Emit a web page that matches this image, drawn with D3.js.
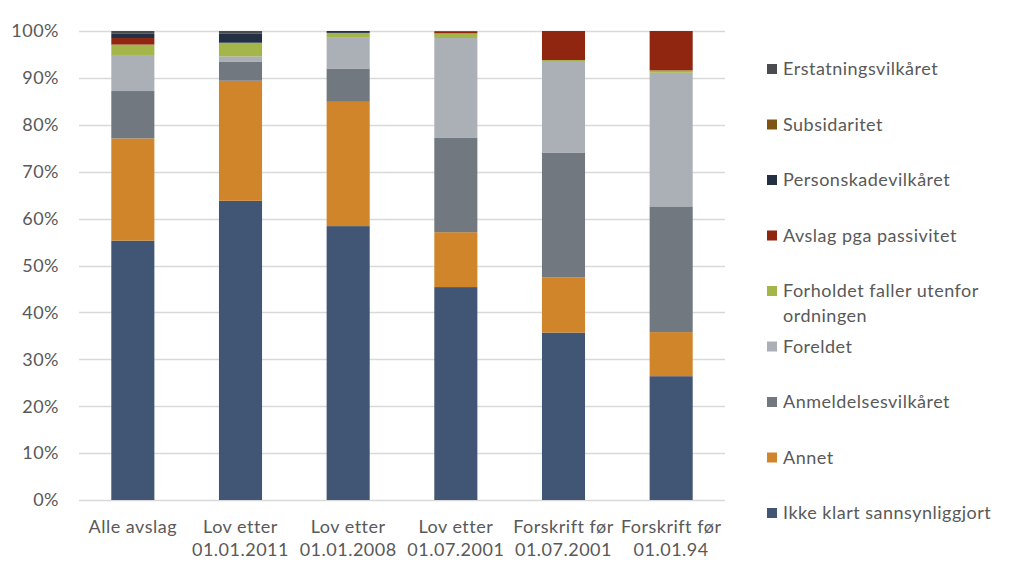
<!DOCTYPE html>
<html><head><meta charset="utf-8">
<script src="https://cdn.jsdelivr.net/npm/d3@7"></script>
<style>body{margin:0;background:#fff}svg{display:block}text{font-family:Lato,"Open Sans",sans-serif;fill:#595959;letter-spacing:0.5px}</style>
</head><body><svg id="c" width="1023" height="584"></svg>
<script>
const categories = [["Alle avslag"],["Lov etter","01.01.2011"],["Lov etter","01.01.2008"],["Lov etter","01.07.2001"],["Forskrift før","01.07.2001"],["Forskrift før","01.01.94"]];
const seriesNames = ["Ikke klart sannsynliggjort","Annet","Anmeldelsesvilkåret","Foreldet","Forholdet faller utenfor ordningen","Avslag pga passivitet","Personskadevilkåret","Subsidaritet","Erstatningsvilkåret"];
const legendLines = [["Ikke klart sannsynliggjort"],["Annet"],["Anmeldelsesvilkåret"],["Foreldet"],["Forholdet faller utenfor","ordningen"],["Avslag pga passivitet"],["Personskadevilkåret"],["Subsidaritet"],["Erstatningsvilkåret"]];
const colors = ["#415574","#D0852A","#717880","#ABAFB6","#A4B64A","#902510","#232F42","#7E5415","#4A4C4F"];
const ikke = [55.3, 63.8, 58.4, 45.4, 35.7, 26.4];
const annet = [21.8, 25.6, 26.5, 11.7, 11.8, 9.4];
const anmeldelse = [10.1, 4.1, 7.1, 20.2, 26.5, 26.8];
const foreldet = [7.5, 1.1, 6.7, 21.2, 19.6, 28.5];
const forholdet = [2.4, 2.9, 0.9, 1.0, 0.2, 0.5];
const avslag = [1.4, 0, 0, 0.3, 6.2, 8.4];
const personskade = [0.9, 1.9, 0.4, 0, 0, 0];
const subsidaritet = [0, 0, 0, 0.2, 0, 0];
const erstatning = [0.6, 0.6, 0, 0, 0, 0];
const yTicks = [0,10,20,30,40,50,60,70,80,90,100];

const seriesVals = [ikke, annet, anmeldelse, foreldet, forholdet, avslag, personskade, subsidaritet, erstatning];
const rows = categories.map((c,i)=>{const r={key:i}; seriesNames.forEach((s,j)=>r[s]=seriesVals[j][i]); return r;});
const stack = d3.stack().keys(seriesNames)(rows);

const svg = d3.select("#c");
const x = d3.scaleBand().domain(d3.range(categories.length)).range([79,725]).paddingInner(0.6).paddingOuter(0.3);
const y = d3.scaleLinear().domain([0,100]).range([500,31]);

svg.append("g").selectAll("line").data(yTicks).join("line")
  .attr("x1",79).attr("x2",725).attr("y1",d=>Math.round(y(d))+0.5).attr("y2",d=>Math.round(y(d))+0.5)
  .attr("stroke","#d9d9d9").attr("stroke-width",1.3);

svg.append("g").selectAll("text").data(yTicks).join("text")
  .attr("x",59).attr("y",d=>y(d)).attr("dy","0.35em").attr("text-anchor","end")
  .style("font-size","18px").text(d=>d+"%");

svg.append("g").selectAll("g").data(stack).join("g").attr("fill",(d,i)=>colors[i])
  .selectAll("rect").data(d=>d).join("rect")
  .attr("x",(d,i)=>x(i)).attr("width",x.bandwidth())
  .attr("y",d=>y(d[1])).attr("height",d=>Math.max(0,y(d[0])-y(d[1])));

const xl = svg.append("g").selectAll("text").data(categories).join("text")
  .attr("x",(d,i)=>x(i)+x.bandwidth()/2).attr("y",533).attr("text-anchor","middle").style("font-size","18px");
xl.selectAll("tspan").data(d=>d).join("tspan").attr("x",function(){return this.parentNode.getAttribute("x");})
  .attr("dy",(d,i)=>i===0?0:23).text(d=>d);

const legOrder = d3.range(seriesNames.length).reverse();
const lg = svg.append("g").selectAll("g").data(legOrder).join("g")
  .attr("transform",(d,k)=>`translate(767,${69+k*55.5})`);
lg.append("rect").attr("x",0).attr("y",-5).attr("width",10).attr("height",10).attr("fill",d=>colors[d]);
const lt = lg.append("text").attr("x",16).attr("y",0).attr("dy","0.35em").style("font-size","18px");
lt.selectAll("tspan").data(d=>legendLines[d]).join("tspan").attr("x",16).attr("dy",(d,i)=>i===0?"0.35em":"25").text(d=>d);
</script></body></html>
